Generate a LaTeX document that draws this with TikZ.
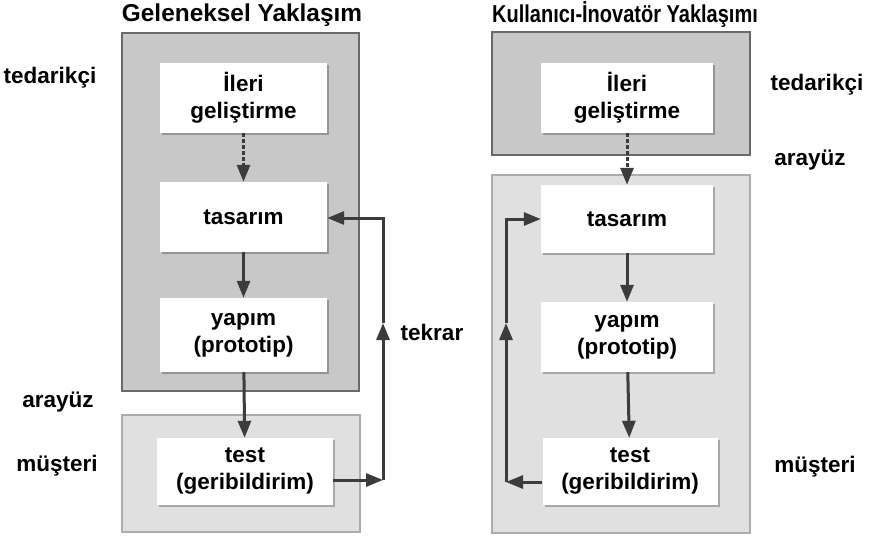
\documentclass[tikz,border=0pt]{standalone}
\usepackage{fontspec}
\setmainfont{Liberation Sans}
\usetikzlibrary{arrows.meta,shadows}
\definecolor{darkbg}{RGB}{200,200,200}
\definecolor{darkline}{RGB}{105,105,105}
\definecolor{lightbg}{RGB}{224,224,224}
\definecolor{lightline}{RGB}{172,172,172}
\definecolor{arrowgray}{RGB}{60,60,60}
\begin{document}
\begin{tikzpicture}[x=1pt, y=-1pt,
    txt/.style={font=\fontsize{22.5}{27}\selectfont\bfseries, align=center, inner sep=0pt},
    headtxt/.style={txt, font=\fontsize{24.4}{27}\selectfont\bfseries},
    stepbox/.style={txt, fill=white, minimum width=167pt, minimum height=70pt,
      drop shadow={shadow xshift=2pt, shadow yshift=-2pt, fill=black, opacity=.25}},
    flow/.style={draw=arrowgray, line width=3pt, -{Triangle[length=17pt,width=13pt]}},
    link/.style={flow, dash pattern=on 4pt off 2pt}]
  \useasboundingbox (0,0) rectangle (873,536);
  % Geleneksel
  \filldraw[fill=darkbg, draw=darkline, line width=2pt] (122,33) rectangle (359,391);
  \filldraw[fill=lightbg, draw=lightline, line width=1.5pt] (122,415) rectangle (360,532);
  \node[headtxt] (ltitle) at (242,15) {Geleneksel Yaklaşım};
  \node[stepbox] (lileri) at (243.5,98) {İleri\\geliştirme};
  \node[stepbox] (ltas) at (243.5,217) {tasarım};
  \node[stepbox, minimum height=74pt] (lyap) at (243.5,335) {yapım\\(prototip)};
  \node[stepbox, minimum width=176pt, minimum height=67pt] (ltest) at (245,471.5) {test\\(geribildirim)};
  \draw[link] (lileri) -- (ltas);
  \draw[flow] (ltas) -- (lyap);
  \draw[flow] (lyap) -- (ltest);
  \coordinate (lfb1) at (383,480);
  \coordinate (lfb2) at (383,323);
  \coordinate (lfb3) at (383,218);
  \draw[flow] (ltest.east |- lfb1) -- (lfb1);
  \draw[flow] (lfb1) -- (lfb2);
  \draw[flow] (lfb2) -- (lfb3) -- (ltas.east |- lfb3);
  \node[txt] (tekrar) at (432,332) {tekrar};
  \foreach \n/\x/\y/\t in {lted/50/78/tedarikçi, lara/58/402/arayüz, lmus/57/466/müşteri}
    \node[txt] (\n) at (\x,\y) {\t};
  % Kullanici-Inovator
  \filldraw[fill=darkbg, draw=darkline, line width=2pt] (492,32) rectangle (750,155);
  \filldraw[fill=lightbg, draw=lightline, line width=1.5pt] (492,175) rectangle (750,533);
  \node[headtxt] (rtitle) at (625,15) {\scalebox{0.82}[1]{Kullanıcı-İnovatör Yaklaşımı}};
  \node[stepbox, minimum width=172pt] (rileri) at (627,98) {İleri\\geliştirme};
  \node[stepbox, minimum width=172pt, minimum height=68pt] (rtas) at (627,219) {tasarım};
  \node[stepbox, minimum width=172pt] (ryap) at (627,337) {yapım\\(prototip)};
  \node[stepbox, minimum width=175pt, minimum height=67pt] (rtest) at (630,471.5) {test\\(geribildirim)};
  \draw[link] (rileri) -- (rtas);
  \draw[flow] (rtas) -- (ryap);
  \draw[flow] (ryap) -- (rtest);
  \coordinate (rfb1) at (506,482);
  \coordinate (rfb2) at (506,323);
  \coordinate (rfb3) at (506,219);
  \draw[flow] (rtest.west |- rfb1) -- (rfb1);
  \draw[flow] (rfb1) -- (rfb2);
  \draw[flow] (rfb2) -- (rfb3) -- (rtas.west |- rfb3);
  \foreach \n/\x/\y/\t in {rted/817/85/tedarikçi, rara/810/160/arayüz, rmus/815/467/müşteri}
    \node[txt] (\n) at (\x,\y) {\t};
\end{tikzpicture}
\end{document}
